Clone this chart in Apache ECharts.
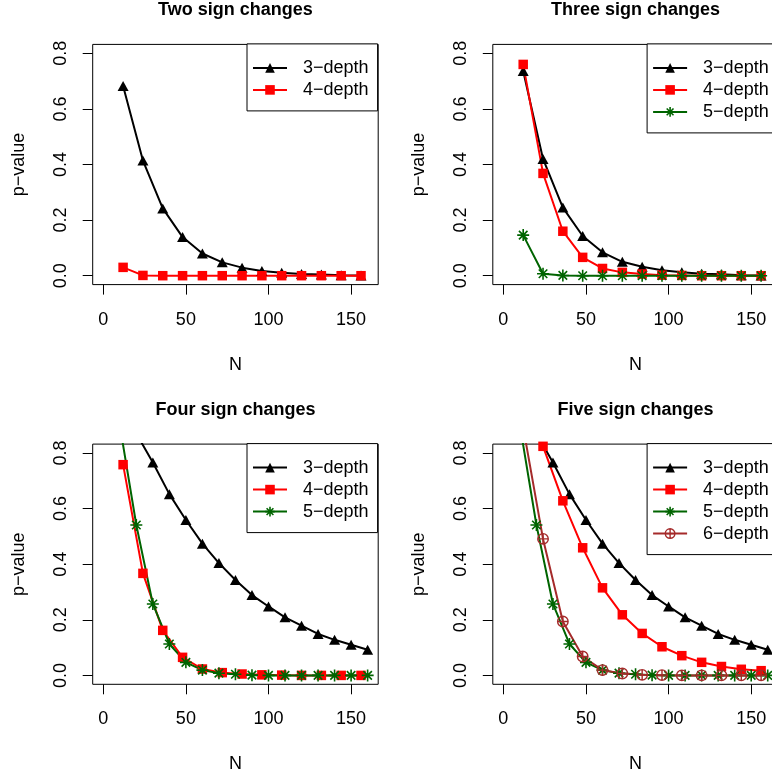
<!DOCTYPE html>
<html>
<head>
<meta charset="utf-8">
<script src="https://cdn.jsdelivr.net/npm/echarts@6/dist/echarts.min.js"></script>
<style>
  html, body { margin: 0; padding: 0; background: #fff; }
  #chart { width: 772px; height: 778px; }
</style>
</head>
<body>
<div id="chart"></div>
<script>
// sample sizes
const nBy12 = [12, 24, 36, 48, 60, 72, 84, 96, 108, 120, 132, 144, 156];
const nBy10 = [10, 20, 30, 40, 50, 60, 70, 80, 90, 100, 110, 120, 130, 140, 150, 160];
const xTicks = [0, 50, 100, 150];
const yTicks = [0, 0.2, 0.4, 0.6, 0.8];

const titles = ["Two sign changes", "Three sign changes", "Four sign changes", "Five sign changes"];

// p-values
const two3 = [0.682, 0.414, 0.242, 0.139, 0.080, 0.048, 0.029, 0.017, 0.011, 0.006, 0.004, 0.002, 0.001];
const two4 = [0.030, 0.001, 0, 0, 0, 0, 0, 0, 0, 0, 0, 0, 0];

const three3 = [0.736, 0.420, 0.245, 0.143, 0.084, 0.050, 0.032, 0.020, 0.012, 0.007, 0.005, 0.002, 0.001];
const three4 = [0.760, 0.368, 0.160, 0.066, 0.026, 0.012, 0.006, 0.002, 0.001, 0, 0, 0, 0];
const three5 = [0.146, 0.007, 0.001, 0, 0, 0, 0, 0, 0, 0, 0, 0, 0];

const four3 = [0.96, 0.87, 0.766, 0.652, 0.559, 0.474, 0.404, 0.343, 0.289, 0.248, 0.209, 0.179, 0.149, 0.128, 0.110, 0.092];
const four4 = [0.758, 0.367, 0.162, 0.065, 0.023, 0.010, 0.005, 0.002, 0.001, 0, 0, 0, 0];
const four5 = [0.90, 0.541, 0.257, 0.113, 0.047, 0.019, 0.008, 0.004, 0.001, 0, 0, 0, 0, 0, 0, 0];

const five3 = [0.96, 0.87, 0.766, 0.652, 0.559, 0.474, 0.404, 0.343, 0.289, 0.248, 0.209, 0.179, 0.149, 0.128, 0.110, 0.092];
const five4 = [0.97, 0.824, 0.628, 0.459, 0.315, 0.218, 0.151, 0.103, 0.071, 0.047, 0.032, 0.022, 0.017];
const five5 = [0.90, 0.541, 0.257, 0.113, 0.047, 0.019, 0.008, 0.004, 0.001, 0, 0, 0, 0, 0, 0, 0];
const five6 = [0.892, 0.491, 0.194, 0.068, 0.019, 0.007, 0.002, 0.001, 0, 0, 0, 0, 0];

const font = "'Liberation Sans', Arial, Helvetica, sans-serif";
const starPath = "path://M0,-1L0,1M-1,0L1,0M-0.71,-0.71L0.71,0.71M-0.71,0.71L0.71,-0.71";
const oplusPath = "path://M-1,0A1,1,0,1,0,1,0A1,1,0,1,0,-1,0ZM-1,0L1,0M0,-1L0,1";

// look of each depth
const depthStyle = {
  "3−depth": { color: "#000000", symbol: "triangle", size: [11, 10], fill: "#000000", border: 0 },
  "4−depth": { color: "#ff0000", symbol: "rect", size: 9.5, fill: "#ff0000", border: 0 },
  "5−depth": { color: "#006400", symbol: starPath, size: 12, fill: "#006400", border: 1.6 },
  "6−depth": { color: "#a52a2a", symbol: oplusPath, size: 10.5, fill: "transparent", border: 1.4 }
};

const panels = [
  { lines: [["3−depth", nBy12, two3], ["4−depth", nBy12, two4]] },
  { lines: [["3−depth", nBy12, three3], ["4−depth", nBy12, three4], ["5−depth", nBy12, three5]] },
  { lines: [["3−depth", nBy10, four3], ["4−depth", nBy12, four4], ["5−depth", nBy10, four5]] },
  { lines: [["3−depth", nBy10, five3], ["4−depth", nBy12, five4], ["5−depth", nBy10, five5], ["6−depth", nBy12, five6]] }
];

const colLeft = [92.7, 492.8];
const rowTop = [44.4, 444.1];
const boxW = 285.5, boxH = 240.2;
const legendW = 131.2;

const option = {
  animation: false,
  backgroundColor: "#fff",
  textStyle: { fontFamily: font, color: "#000" },
  title: [], grid: [], xAxis: [], yAxis: [], legend: [], series: []
};

panels.forEach((p, i) => {
  const left = colLeft[i % 2], top = rowTop[Math.floor(i / 2)];
  option.title.push({
    text: titles[i], left: left + boxW / 2, textAlign: "center", top: top - 43, padding: 0,
    textStyle: { fontFamily: font, fontSize: 18, fontWeight: "bold", color: "#000" }
  });
  option.grid.push({
    left: left, top: top, width: boxW, height: boxH, outerBoundsMode: "none",
    show: true, borderColor: "#000", borderWidth: 1, backgroundColor: "transparent"
  });
  option.xAxis.push({
    type: "value", gridIndex: i, min: -6.4, max: 166.4,
    name: "N", nameLocation: "middle", nameGap: 71,
    nameTextStyle: { fontFamily: font, fontSize: 18, color: "#000" },
    axisLine: { show: false, onZero: false },
    axisTick: { show: true, length: 10, customValues: xTicks, lineStyle: { color: "#000", width: 1 } },
    axisLabel: { customValues: xTicks, fontFamily: font, fontSize: 18, color: "#000", margin: 26 },
    splitLine: { show: false }
  });
  option.yAxis.push({
    type: "value", gridIndex: i, min: -0.032, max: 0.832,
    name: "p−value", nameLocation: "middle", nameGap: 65,
    nameTextStyle: { fontFamily: font, fontSize: 18, color: "#000" },
    axisLine: { show: false, onZero: false },
    axisTick: { show: true, length: 10, customValues: yTicks, lineStyle: { color: "#000", width: 1 } },
    axisLabel: {
      customValues: yTicks, rotate: 90, fontFamily: font, fontSize: 18, color: "#000", margin: 23,
      formatter: v => v.toFixed(1)
    },
    splitLine: { show: false }
  });
  option.legend.push({
    orient: "vertical", left: left + boxW - legendW, top: top - 0.5,
    padding: [15, 9, 12, 5], itemGap: 4, itemWidth: 34, itemHeight: 12,
    borderColor: "#000", borderWidth: 1, backgroundColor: "#fff",
    selectedMode: false,
    textStyle: { fontFamily: font, fontSize: 18, color: "#000", padding: [0, 0, 0, 11] },
    data: p.lines.map(l => {
      const s = depthStyle[l[0]];
      return {
        name: l[0],
        itemStyle: { color: s.fill, borderColor: s.color, borderWidth: s.border },
        lineStyle: { color: s.color, width: 2 }
      };
    })
  });
  p.lines.forEach(l => {
    const s = depthStyle[l[0]];
    option.series.push({
      type: "line", name: l[0], xAxisIndex: i, yAxisIndex: i,
      data: l[1].map((n, k) => [n, l[2][k]]),
      symbol: s.symbol, symbolSize: s.size, showAllSymbol: true,
      lineStyle: { color: s.color, width: 2 },
      itemStyle: { color: s.fill, borderColor: s.color, borderWidth: s.border },
      emphasis: { disabled: true }, silent: true
    });
  });
});

const chart = echarts.init(document.getElementById("chart"));
chart.setOption(option);
</script>
</body>
</html>
